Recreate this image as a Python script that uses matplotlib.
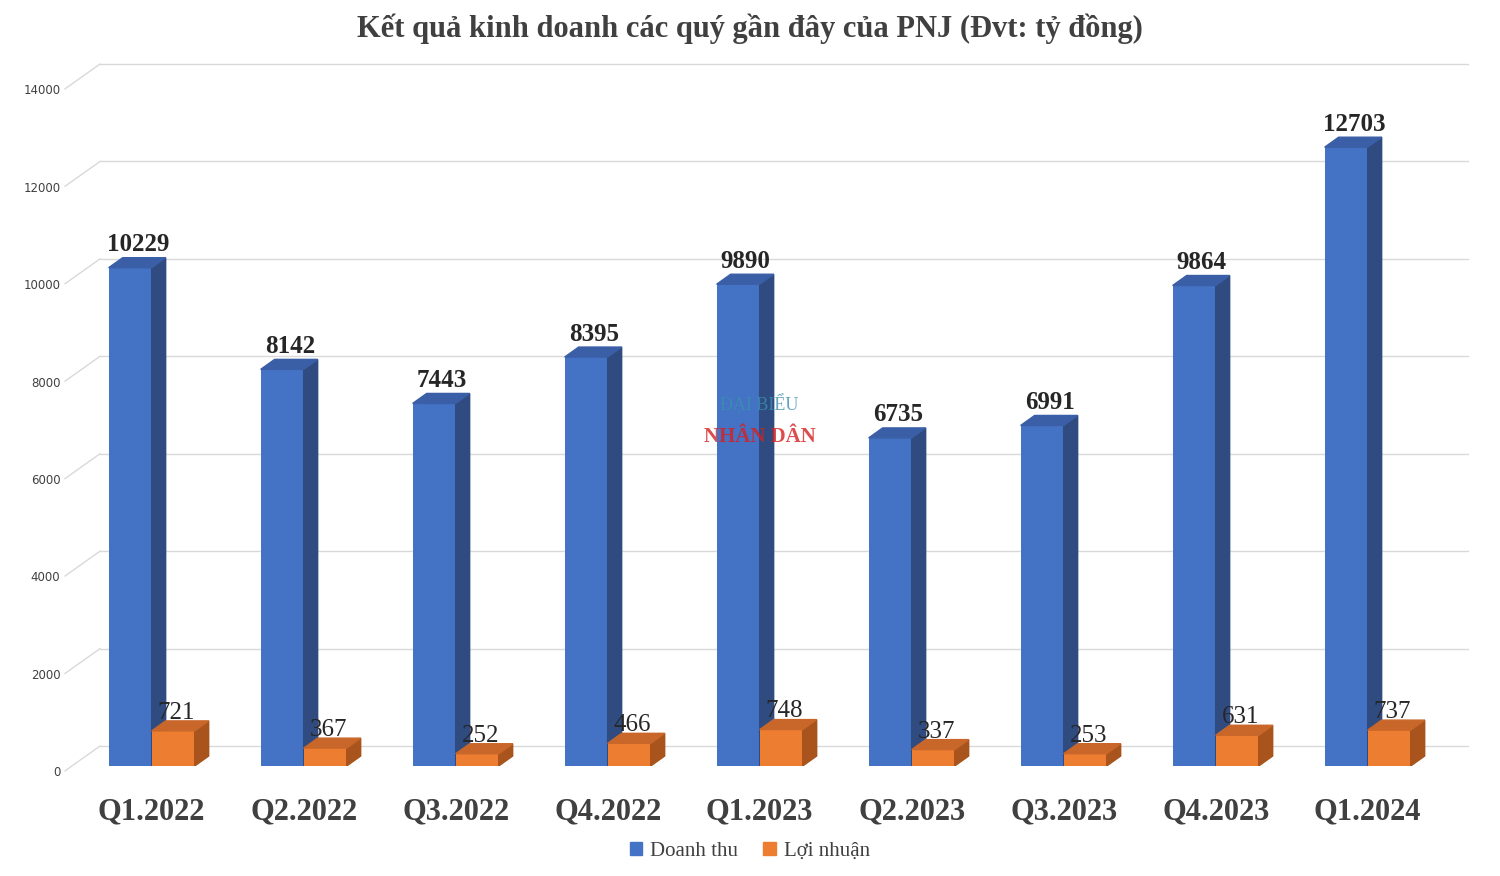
import matplotlib
matplotlib.use("Agg")
import matplotlib.pyplot as plt
from matplotlib.patches import Polygon, Patch

categories = ["Q1.2022","Q2.2022","Q3.2022","Q4.2022","Q1.2023","Q2.2023","Q3.2023","Q4.2023","Q1.2024"]
doanh_thu = [10229, 8142, 7443, 8395, 9890, 6735, 6991, 9864, 12703]
loi_nhuan = [721, 367, 252, 466, 748, 337, 253, 631, 737]
yticks = [0, 2000, 4000, 6000, 8000, 10000, 12000, 14000]

fig = plt.figure(figsize=(15, 8.76), dpi=100)
ax = fig.add_axes([100/1500, 1-766/876, 1368/1500, 701/876])
W = 0.283
DX, DY = 0.092, 205
GDY = 410
blue, blue_side, blue_top = "#4472C4", "#2F4B80", "#3A5FA6"
orng, orng_side, orng_top = "#ED7D31", "#A8541C", "#C9672A"

for y in yticks:
    ax.plot([-0.34, 8.66], [y+GDY, y+GDY], color="#d9d9d9", lw=1, zorder=0, clip_on=False)
    ax.plot([-0.57, -0.34], [y-100, y+GDY], color="#d9d9d9", lw=1, zorder=0, clip_on=False)
    ax.text(-0.6, y-140, str(y), ha="right", va="center", fontsize=8.5, color="#404040", clip_on=False)

def bar3d(x0, h, cf, cs, ct):
    ax.bar(x0, h, width=W, align="edge", color=cf, zorder=2)
    ax.add_patch(Polygon([(x0+W,0),(x0+W+DX,DY),(x0+W+DX,h+DY),(x0+W,h)], color=cs, zorder=2))
    ax.add_patch(Polygon([(x0,h),(x0+DX,h+DY),(x0+W+DX,h+DY),(x0+W,h)], color=ct, zorder=2))

for i,(d,l) in enumerate(zip(doanh_thu, loi_nhuan)):
    bar3d(i-W, d, blue, blue_side, blue_top)
    bar3d(i, l, orng, orng_side, orng_top)
    ax.text(i-W/2+0.05, d+DY+30, str(d), ha="center", va="bottom", fontsize=18, fontweight="bold",
            family="Liberation Serif", color="#262626", zorder=3)
    ax.text(i+W/2+0.02, l+DY-60, str(l), ha="center", va="bottom", fontsize=18,
            family="Liberation Serif", color="#262626", zorder=3)

ax.set_xticks(range(len(categories)))
ax.set_xticklabels(categories, fontsize=22, fontweight="bold", family="Liberation Serif", color="#404040")
ax.tick_params(axis="x", length=0, pad=23)
ax.set_yticks([])
for s in ax.spines.values():
    s.set_visible(False)

ax.text(4.0, 7300, "ĐẠI BIỂU", color="#3a8fb0", fontsize=13, family="Liberation Serif", ha="center", alpha=0.8, zorder=4)
ax.text(4.0, 6650, "NHÂN DÂN", color="#d62020", fontsize=15, fontweight="bold", family="Liberation Serif", ha="center", alpha=0.8, zorder=4)
ax.set_xlim(-0.34, 8.66)
ax.set_ylim(0, 14390)

fig.suptitle("Kết quả kinh doanh các quý gần đây của PNJ (Đvt: tỷ đồng)", y=0.985, fontsize=22,
             fontweight="bold", family="Liberation Serif", color="#404040")
fig.legend(handles=[Patch(color=blue, label="Doanh thu"), Patch(color=orng, label="Lợi nhuận")],
           loc="center", bbox_to_anchor=(0.5, 1-851/876), ncol=2, frameon=False,
           prop={"family": "Liberation Serif", "size": 15}, handlelength=0.6, handleheight=0.6,
           columnspacing=1.2, handletextpad=0.4, labelcolor="#404040")
fig.savefig("out.png", dpi=100)
